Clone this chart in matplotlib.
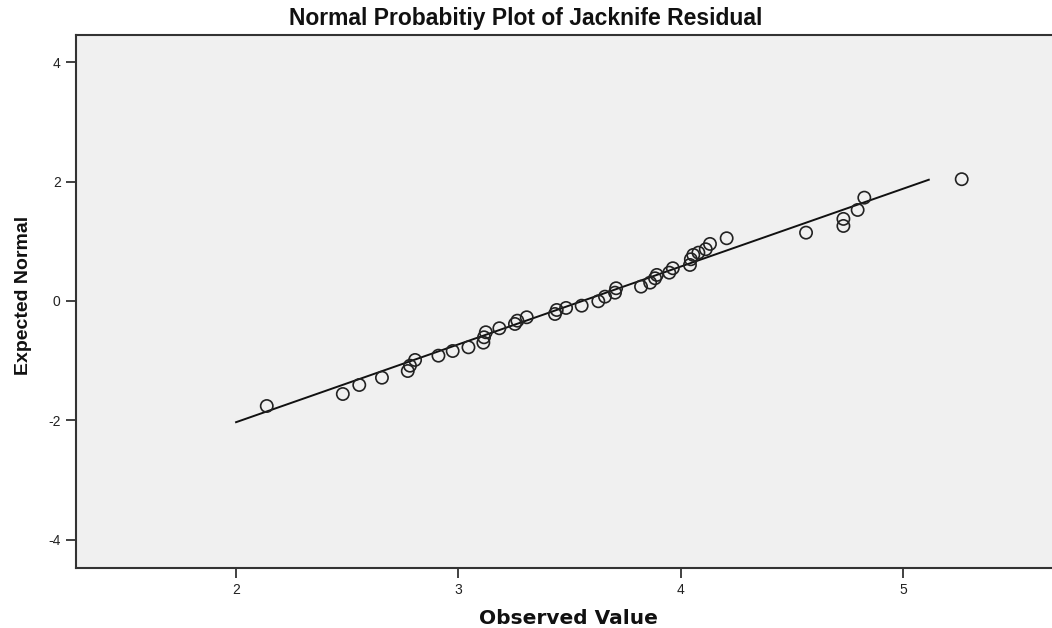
import matplotlib
matplotlib.use("Agg")
import matplotlib.pyplot as plt

# observed jacknife residual values vs expected normal scores
observed = [2.138, 2.480, 2.554, 2.656, 2.772, 2.782, 2.805, 2.910, 2.974, 3.045,
            3.112, 3.115, 3.123, 3.184, 3.254, 3.265, 3.307, 3.434, 3.442, 3.484,
            3.554, 3.629, 3.659, 3.704, 3.709, 3.821, 3.862, 3.884, 3.892, 3.948,
            3.964, 4.041, 4.045, 4.056, 4.079, 4.112, 4.131, 4.206, 4.563, 4.731,
            4.731, 4.795, 4.825, 5.263]
expected = [-1.759, -1.558, -1.407, -1.285, -1.173, -1.084, -0.988, -0.916, -0.838, -0.776,
            -0.698, -0.608, -0.524, -0.457, -0.385, -0.330, -0.273, -0.218, -0.151, -0.117,
            -0.079, -0.005, 0.072, 0.139, 0.213, 0.240, 0.307, 0.380, 0.436, 0.474,
            0.548, 0.603, 0.698, 0.771, 0.809, 0.866, 0.955, 1.050, 1.144, 1.256,
            1.374, 1.524, 1.730, 2.039]

# reference line endpoints
line_x = [2.0, 5.115]
line_y = [-2.03, 2.03]

x_ticks = [2, 3, 4, 5]
y_ticks = [-4, -2, 0, 2, 4]

plain = ['Liberation Sans', 'DejaVu Sans']
wide = ['DejaVu Sans']

fig = plt.figure(figsize=(10.52, 6.28), dpi=100)
ax = fig.add_axes([0.0722, 0.0955, 0.9278, 0.849])
ax.set_facecolor('#f0f0f0')

ax.plot(line_x, line_y, color='#111111', lw=1.4, zorder=2)
ax.scatter(observed, expected, s=78, facecolors='none', edgecolors='#222222',
           linewidths=1.2, zorder=3)

ax.set_xlim(1.28, 5.669)
ax.set_ylim(-4.472, 4.456)
ax.set_xticks(x_ticks)
ax.set_yticks(y_ticks)
ax.set_xticklabels([str(v) for v in x_ticks], family=plain, fontsize=10)
ax.set_yticklabels([str(v) for v in y_ticks], family=plain, fontsize=10)
ax.tick_params(axis='both', direction='out', length=7, width=1.3, color='#333333',
               labelcolor='#222222', pad=4)

for side in ['left', 'bottom', 'top']:
    ax.spines[side].set_color('#333333')
    ax.spines[side].set_linewidth(1.5)
ax.spines['right'].set_visible(False)

ax.set_xlabel('Observed Value', family=wide, fontsize=14.5, fontweight='bold',
              color='#111111', va='center')
ax.xaxis.set_label_coords(0.505, -0.0947)
ax.set_ylabel('Expected Normal', family=plain, fontsize=14, fontweight='bold',
              color='#111111', va='center')
ax.yaxis.set_label_coords(-0.0533, 0.512)
fig.text(0.5, 0.971, 'Normal Probabitiy Plot of Jacknife Residual', family=plain,
         fontsize=16.5, fontweight='bold', color='#111111', ha='center', va='center')

fig.savefig('out.png', dpi=100, facecolor='white')
